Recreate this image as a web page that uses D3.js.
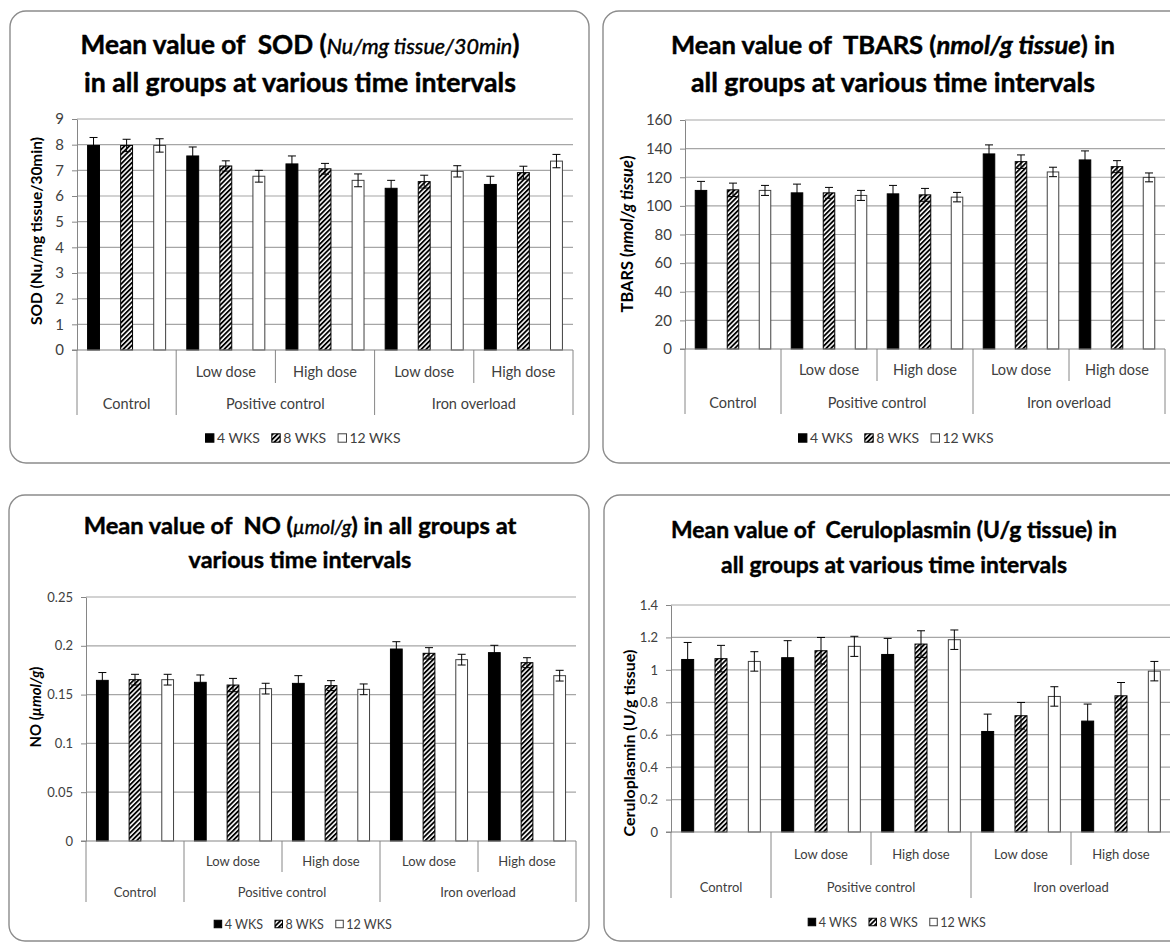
<!DOCTYPE html>
<html>
<head>
<meta charset="utf-8">
<script src="https://cdn.jsdelivr.net/npm/d3@7"></script>
<style>
  body { margin: 0; background: #ffffff; }
  svg { display: block; font-family: Lato, "Open Sans", sans-serif; }
  text { white-space: pre; }
</style>
</head>
<body>
<div id="chart"></div>
<script>
const GROUPS = ["Control", "Positive control", "Iron overload"];
const GROUP_SPANS = [1, 2, 2];
const SUBGROUPS = ["", "Low dose", "High dose", "Low dose", "High dose"];
const SERIES_LABELS = ["4 WKS", "8 WKS", "12 WKS"];

// rows = series (4, 8, 12 WKS), columns = sub-categories
const SOD_MEAN = [
  [7.97, 7.56, 7.25, 6.30, 6.45],
  [7.97, 7.17, 7.06, 6.56, 6.91],
  [7.97, 6.77, 6.61, 6.96, 7.36],
];
const SOD_ERR = [
  [0.31, 0.35, 0.31, 0.31, 0.32],
  [0.24, 0.20, 0.21, 0.25, 0.25],
  [0.26, 0.23, 0.25, 0.22, 0.26],
];
const SOD_TICKS = [0, 1, 2, 3, 4, 5, 6, 7, 8, 9];

const TBARS_MEAN = [
  [110.8, 109.1, 108.4, 136.3, 132.1],
  [111.2, 109.1, 107.7, 130.9, 127.4],
  [110.8, 107.3, 106.1, 123.7, 119.9],
];
const TBARS_ERR = [
  [6.3, 6.1, 5.9, 6.3, 6.3],
  [4.7, 3.8, 4.5, 4.7, 4.2],
  [3.5, 3.5, 3.3, 3.3, 3.1],
];
const TBARS_TICKS = [0, 20, 40, 60, 80, 100, 120, 140, 160];

const NO_MEAN = [
  [0.1646, 0.1626, 0.1615, 0.1967, 0.1930],
  [0.1653, 0.1598, 0.1592, 0.1923, 0.1827],
  [0.1653, 0.1561, 0.1554, 0.1858, 0.1694],
];
const NO_ERR = [
  [0.0080, 0.0075, 0.0079, 0.0075, 0.0075],
  [0.0055, 0.0068, 0.0051, 0.0058, 0.0051],
  [0.0055, 0.0055, 0.0055, 0.0055, 0.0055],
];
const NO_TICKS = [0, 0.05, 0.1, 0.15, 0.2, 0.25];

const CP_MEAN = [
  [1.064, 1.075, 1.095, 0.620, 0.684],
  [1.069, 1.118, 1.159, 0.717, 0.840],
  [1.052, 1.145, 1.186, 0.836, 0.992],
];
const CP_ERR = [
  [0.105, 0.105, 0.099, 0.107, 0.105],
  [0.082, 0.082, 0.082, 0.082, 0.082],
  [0.060, 0.062, 0.060, 0.060, 0.060],
];
const CP_TICKS = [0, 0.2, 0.4, 0.6, 0.8, 1, 1.2, 1.4];

const PANELS = [
  {
    mean: SOD_MEAN, err: SOD_ERR, ticks: SOD_TICKS,
    box: [10, 11, 579, 452],
    plot: { left: 77, right: 573, top: 119, bottom: 350 },
    title: {
      cx: 300, ys: [45, 82], widths: [439, 432], size: 27,
      lines: [
        [["Mean value of  SOD (", "b"], ["Nu/mg tissue/30min", "i"], [")", "b"]],
        [["in all groups at various time intervals", "b"]],
      ],
    },
    yTitle: { x: 36, y: 231, width: 188, parts: [["SOD (Nu/mg tissue/30min)", "b"]] },
    rows: { sub: 372, group: 404, shortEnd: 383, longEnd: 415 },
    legend: { cx: 303, y: 438, size: 14 },
    tickSize: 15, labelSize: 14.5,
  },
  {
    mean: TBARS_MEAN, err: TBARS_ERR, ticks: TBARS_TICKS,
    box: [603, 11, 620, 452],
    plot: { left: 685, right: 1165, top: 120, bottom: 349 },
    title: {
      cx: 893, ys: [45, 82], widths: [444, 404], size: 27,
      lines: [
        [["Mean value of  TBARS (", "b"], ["nmol/g tissue", "bi"], [") in", "b"]],
        [["all groups at various time intervals", "b"]],
      ],
    },
    yTitle: { x: 627, y: 234, width: 157, parts: [["TBARS (", "b"], ["nmol/g tissue", "bi"], [")", "b"]] },
    rows: { sub: 370, group: 403, shortEnd: 381, longEnd: 414 },
    legend: { cx: 896, y: 438, size: 14 },
    tickSize: 15, labelSize: 14.5,
  },
  {
    mean: NO_MEAN, err: NO_ERR, ticks: NO_TICKS,
    box: [9, 495, 580, 446],
    plot: { left: 86, right: 576, top: 597, bottom: 841 },
    title: {
      cx: 300, ys: [525, 560], widths: [433, 223], size: 26,
      lines: [
        [["Mean value of  NO (", "b"], ["\u00b5mol/g", "i"], [") in all groups at", "b"]],
        [["various time intervals", "b"]],
      ],
    },
    yTitle: { x: 36, y: 707, width: 81, parts: [["NO (", "b"], ["\u00b5mol/g", "bi"], [")", "b"]] },
    rows: { sub: 861, group: 892, shortEnd: 872, longEnd: 902 },
    legend: { cx: 303, y: 924, size: 12.5 },
    tickSize: 13, labelSize: 13,
  },
  {
    mean: CP_MEAN, err: CP_ERR, ticks: CP_TICKS,
    box: [604, 495, 620, 446],
    plot: { left: 671, right: 1171, top: 605, bottom: 832 },
    title: {
      cx: 894, ys: [530, 565], widths: [446, 346], size: 26,
      lines: [
        [["Mean value of  Ceruloplasmin (U/g tissue) in", "b"]],
        [["all groups at various time intervals", "b"]],
      ],
    },
    yTitle: { x: 629, y: 743, width: 187, parts: [["Ceruloplasmin (U/g tissue)", "b"]] },
    rows: { sub: 854, group: 887, shortEnd: 865, longEnd: 898 },
    legend: { cx: 897, y: 922, size: 12.5 },
    tickSize: 13, labelSize: 13,
  },
];

const AXIS_GREY = "#868686";
const GRID_GREY = "#a6a6a6";
const TEXT_GREY = "#404040";

const svg = d3.select("#chart").append("svg")
  .attr("width", 1170).attr("height", 942);

const defs = svg.append("defs");
const hatch = defs.append("pattern")
  .attr("id", "hatch")
  .attr("patternUnits", "userSpaceOnUse")
  .attr("width", 3.4).attr("height", 3.4)
  .attr("patternTransform", "rotate(45)");
hatch.append("rect").attr("width", 3.4).attr("height", 3.4).attr("fill", "#fff");
hatch.append("line")
  .attr("x1", 0.9).attr("y1", 0).attr("x2", 0.9).attr("y2", 3.4)
  .attr("stroke", "#000").attr("stroke-width", 1.9);

const FILLS = ["#000000", "url(#hatch)", "#ffffff"];
const STROKES = ["#000000", "#000000", "#404040"];

function addParts(text, parts) {
  parts.forEach(([str, style]) => {
    const t = text.append("tspan").text(str);
    if (style.includes("i")) {
      t.attr("font-style", "italic");
      if (!style.includes("b")) t.attr("font-weight", 400).attr("font-size", "0.82em");
    }
  });
}

// rescale the font so a line gets the width it has in the reference
function fitWidth(text, target) {
  const w = text.node().getComputedTextLength();
  const fs = parseFloat(text.attr("font-size"));
  if (w > 0) text.attr("font-size", (fs * target) / w);
}

function drawPanel(p) {
  const g = svg.append("g");
  const [bx, by, bw, bh] = p.box;
  const { left, right, top, bottom } = p.plot;

  g.append("rect")
    .attr("x", bx).attr("y", by).attr("width", bw).attr("height", bh)
    .attr("rx", 16).attr("ry", 16)
    .attr("fill", "#fff").attr("stroke", "#8c8c8c").attr("stroke-width", 1.4);

  // title
  p.title.lines.forEach((line, i) => {
    const t = g.append("text")
      .attr("x", p.title.cx).attr("y", p.title.ys[i])
      .attr("dy", "0.36em")
      .attr("text-anchor", "middle")
      .attr("font-size", p.title.size)
      .attr("font-weight", 700)
      .attr("fill", "#000")
      .attr("stroke", "#000")
      .attr("stroke-width", 0.45);
    addParts(t, line);
    fitWidth(t, p.title.widths[i]);
  });

  const y = d3.scaleLinear()
    .domain([0, d3.max(p.ticks)])
    .range([bottom, top]);

  const nSub = SUBGROUPS.length;
  const nSer = SERIES_LABELS.length;
  const slot = d3.scaleBand()
    .domain(d3.range(nSub * nSer))
    .range([left, right])
    .paddingInner(0.64)
    .paddingOuter(0.32);
  const sub = d3.scaleBand().domain(d3.range(nSub)).range([left, right]);

  // gridlines
  g.append("g")
    .selectAll("line")
    .data(p.ticks.filter((t) => t > 0))
    .join("line")
    .attr("x1", left).attr("x2", right)
    .attr("y1", (d) => y(d)).attr("y2", (d) => y(d))
    .attr("stroke", GRID_GREY).attr("stroke-width", 1.2);

  // y axis
  const yAxis = g.append("g")
    .attr("transform", `translate(${left},0)`)
    .call(
      d3.axisLeft(y)
        .tickValues(p.ticks)
        .tickSize(5)
        .tickSizeOuter(0)
        .tickPadding(8)
        .tickFormat((d) => String(+d.toFixed(2)))
    );
  yAxis.select(".domain").attr("stroke", AXIS_GREY);
  yAxis.selectAll(".tick line").attr("stroke", AXIS_GREY);
  yAxis.selectAll(".tick text")
    .attr("font-family", "Lato, 'Open Sans', sans-serif")
    .attr("font-size", p.tickSize)
    .attr("fill", TEXT_GREY);

  // y title
  const yt = g.append("text")
    .attr("transform", `translate(${p.yTitle.x},${p.yTitle.y}) rotate(-90)`)
    .attr("dy", "0.36em")
    .attr("text-anchor", "middle")
    .attr("font-size", 12.5)
    .attr("font-weight", 700)
    .attr("fill", "#000");
  addParts(yt, p.yTitle.parts);
  fitWidth(yt, p.yTitle.width);

  // bars
  const bars = [];
  p.mean.forEach((row, s) => {
    row.forEach((v, i) => {
      bars.push({ s, i, v, e: p.err[s][i], k: i * nSer + s });
    });
  });

  g.append("g")
    .selectAll("rect")
    .data(bars)
    .join("rect")
    .attr("x", (d) => slot(d.k))
    .attr("width", slot.bandwidth())
    .attr("y", (d) => y(d.v))
    .attr("height", (d) => y(0) - y(d.v))
    .attr("fill", (d) => FILLS[d.s])
    .attr("stroke", (d) => STROKES[d.s])
    .attr("stroke-width", 1);

  // error bars
  const eb = g.append("g").attr("stroke", "#000").attr("stroke-width", 1);
  bars.forEach((d) => {
    const cx = slot(d.k) + slot.bandwidth() / 2;
    eb.append("line")
      .attr("x1", cx).attr("x2", cx)
      .attr("y1", y(d.v - d.e)).attr("y2", y(d.v + d.e));
    [d.v - d.e, d.v + d.e].forEach((val) => {
      eb.append("line")
        .attr("x1", cx - 4).attr("x2", cx + 4)
        .attr("y1", y(val)).attr("y2", y(val));
    });
  });

  // baseline
  g.append("line")
    .attr("x1", left - 5).attr("x2", right)
    .attr("y1", y(0)).attr("y2", y(0))
    .attr("stroke", AXIS_GREY).attr("stroke-width", 1.2);

  // category separators
  const longIdx = new Set([0, ...d3.cumsum(GROUP_SPANS)]);
  d3.range(nSub + 1).forEach((i) => {
    const xPos = i === nSub ? right : sub(i);
    g.append("line")
      .attr("x1", xPos).attr("x2", xPos)
      .attr("y1", y(0))
      .attr("y2", longIdx.has(i) ? p.rows.longEnd : p.rows.shortEnd)
      .attr("stroke", AXIS_GREY).attr("stroke-width", 1);
  });

  // sub-category labels
  g.append("g")
    .selectAll("text")
    .data(SUBGROUPS)
    .join("text")
    .attr("x", (d, i) => sub(i) + sub.bandwidth() / 2)
    .attr("y", p.rows.sub)
    .attr("dy", "0.36em")
    .attr("text-anchor", "middle")
    .attr("font-size", p.labelSize)
    .attr("fill", TEXT_GREY)
    .text((d) => d);

  // group labels
  const starts = [0, ...d3.cumsum(GROUP_SPANS)];
  g.append("g")
    .selectAll("text")
    .data(GROUPS)
    .join("text")
    .attr("x", (d, i) => {
      const x0 = sub(starts[i]);
      const x1 = starts[i + 1] >= nSub ? right : sub(starts[i + 1]);
      return (x0 + x1) / 2;
    })
    .attr("y", p.rows.group)
    .attr("dy", "0.36em")
    .attr("text-anchor", "middle")
    .attr("font-size", p.labelSize)
    .attr("fill", TEXT_GREY)
    .text((d) => d);

  // legend
  const lg = g.append("g");
  const sq = p.legend.size * 0.6;
  let cursor = 0;
  SERIES_LABELS.forEach((label, s) => {
    lg.append("rect")
      .attr("x", cursor).attr("y", p.legend.y - sq / 2)
      .attr("width", sq).attr("height", sq)
      .attr("fill", FILLS[s])
      .attr("stroke", STROKES[s]).attr("stroke-width", 1);
    const t = lg.append("text")
      .attr("x", cursor + sq + 3)
      .attr("y", p.legend.y)
      .attr("dy", "0.36em")
      .attr("font-size", p.legend.size)
      .attr("fill", TEXT_GREY)
      .text(label);
    cursor += sq + 3 + t.node().getComputedTextLength() + 12;
  });
  const total = cursor - 12;
  lg.attr("transform", `translate(${p.legend.cx - total / 2},0)`);
}

PANELS.forEach(drawPanel);
</script>
</body>
</html>
